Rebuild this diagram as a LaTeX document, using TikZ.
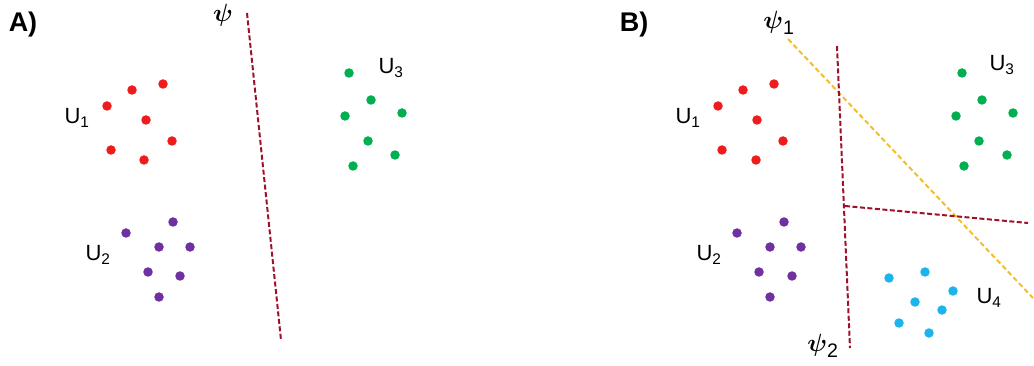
\documentclass[tikz,border=0pt]{standalone}
\usepackage{fontspec}
\setmainfont{Liberation Sans}
\usepackage{amsmath}
\begin{document}
\begin{tikzpicture}[x=1pt,y=-1pt,
  dot/.style={circle,fill=#1,inner sep=0pt,minimum size=9.5pt},
  lbl/.style={font=\fontsize{22}{24}\selectfont,inner sep=0pt},
  panel/.style={font=\fontsize{27}{29}\selectfont\bfseries,inner sep=0pt},
  psilbl/.style={font=\fontsize{28}{30}\selectfont,inner sep=0pt},
  sepA/.style={draw=sepred,line width=2pt,dash pattern=on 5pt off 2.5pt},
  sepB/.style={draw=sepyellow,line width=2pt,dash pattern=on 5pt off 3pt}]
\definecolor{ptred}{HTML}{EE1C1C}
\definecolor{ptpurple}{HTML}{7030A0}
\definecolor{ptgreen}{HTML}{00B050}
\definecolor{ptcyan}{HTML}{1CB4EC}
\definecolor{sepred}{HTML}{A0102A}
\definecolor{sepyellow}{HTML}{F2BE2C}
\useasboundingbox (0,0) rectangle (1034,366);

% ---------- panel A ----------
\node[panel] (pA) at (23,25) {A)};
\foreach \x/\y [count=\i] in {107/106,132/90,163/84,146/120,172/141,111/150,144/160}
  \node[dot=ptred] (ar\i) at (\x,\y) {};
\foreach \x/\y [count=\i] in {126/233,173/222,159/247,190/247,148/272,180/276,159/297}
  \node[dot=ptpurple] (ap\i) at (\x,\y) {};
\foreach \x/\y [count=\i] in {349/73,371/100,345/116,402/113,368/141,395/155,353/166}
  \node[dot=ptgreen] (ag\i) at (\x,\y) {};
\node[lbl] (aU1) at (77,118) {U\textsubscript{1}};
\node[lbl] (aU2) at (98,255) {U\textsubscript{2}};
\node[lbl] (aU3) at (391,68) {U\textsubscript{3}};
\node[psilbl] (apsi) at (223,15) {$\boldsymbol{\psi}$};
\coordinate (aS1) at (247,13);
\coordinate (aS2) at (281,340);
\draw[sepA] (aS1) -- (aS2);

% ---------- panel B ----------
\node[panel] (pB) at (634,25) {B)};
\foreach \x/\y [count=\i] in {718/106,743/90,774/84,757/120,783/141,722/150,756/160}
  \node[dot=ptred] (br\i) at (\x,\y) {};
\foreach \x/\y [count=\i] in {737/233,784/222,770/247,801/247,759/272,792/276,770/297}
  \node[dot=ptpurple] (bp\i) at (\x,\y) {};
\foreach \x/\y [count=\i] in {962/73,982/100,956/116,1013/113,979/141,1007/155,964/166}
  \node[dot=ptgreen] (bg\i) at (\x,\y) {};
\foreach \x/\y [count=\i] in {889/278,925/272,953/291,915/302,942/310,899/323,929/333}
  \node[dot=ptcyan] (bc\i) at (\x,\y) {};
\node[lbl] (bU1) at (688,118) {U\textsubscript{1}};
\node[lbl] (bU2) at (709,255) {U\textsubscript{2}};
\node[lbl] (bU3) at (1002,65) {U\textsubscript{3}};
\node[lbl] (bU4) at (989,298) {U\textsubscript{4}};
\node[psilbl] (bpsi1) at (779,23) {$\boldsymbol{\psi}_{\mathrm{1}}$};
\node[psilbl] (bpsi2) at (823,346) {$\boldsymbol{\psi}_{\mathrm{2}}$};
\coordinate (bV1) at (837,46);
\coordinate (bV2) at (850,348);
\coordinate (bH1) at (845,206);
\coordinate (bH2) at (1028,223);
\coordinate (bD1) at (788,39);
\coordinate (bD2) at (1033,298);
\draw[sepB] (bD1) -- (bD2);
\draw[sepA] (bV1) -- (bV2);
\draw[sepA] (bH1) -- (bH2);
\end{tikzpicture}
\end{document}
